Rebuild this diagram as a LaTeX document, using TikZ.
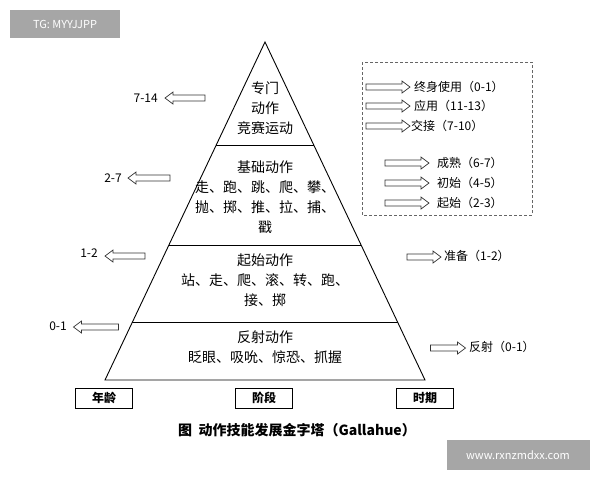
\documentclass[tikz,border=0pt]{standalone}
\usepackage{fontspec}
\setmainfont{Noto Sans CJK SC}
\begin{document}
\begin{tikzpicture}[x=1pt,y=-1pt,
 t/.style={font=\fontsize{14}{20}\selectfont,align=center,inner sep=0},
 s/.style={font=\fontsize{12}{14}\selectfont,inner sep=0},
 hol/.style={draw=black!80,line width=0.7pt,line join=miter},
 lbl/.style={draw,line width=0.8pt,minimum width=57pt,minimum height=20pt,font=\bfseries\fontsize{12}{14}\selectfont,inner sep=0},
 rarr/.pic={\draw[hol] (-#1/2,-3) -- (#1/2-8,-3) -- (#1/2-8,-6) -- (#1/2,0) -- (#1/2-8,6) -- (#1/2-8,3) -- (-#1/2,3) -- cycle;},
 larr/.pic={\draw[hol] (#1/2,-3) -- (-#1/2+8,-3) -- (-#1/2+8,-6) -- (-#1/2,0) -- (-#1/2+8,6) -- (-#1/2+8,3) -- (#1/2,3) -- cycle;}]
\useasboundingbox (0,0) rectangle (600,480);
\fill[white] (0,0) rectangle (600,480);
\node[fill=black!35,minimum width=110,minimum height=28,text=white,font=\fontsize{11}{13}\selectfont] (tg) at (65,24) {TG: MYYJJPP};
\node[fill=black!35,minimum width=143,minimum height=30,text=white,font=\fontsize{11}{13}\selectfont] (wm) at (518,455) {www.rxnzmdxx.com};
% pyramid
\draw[line width=0.9pt] (265,42) coordinate (apex) -- (425,380) coordinate (br) -- (105,380) coordinate (bl) -- cycle;
\draw[line width=0.9pt] (216,145) -- (314,145);
\draw[line width=0.9pt] (169,245) -- (361,245);
\draw[line width=0.9pt] (132,322) -- (398,322);
\node[t] (l1) at (265,108) {专门\\动作\\竞赛运动};
\node[t] (l2) at (265,197) {基础动作\\走、跑、跳、爬、攀、\\抛、掷、推、拉、捕、\\戳};
\node[t] (l3) at (265,280) {起始动作\\站、走、爬、滚、转、跑、\\接、掷};
\node[t] (l4) at (265,347) {反射动作\\眨眼、吸吮、惊恐、抓握};
% left arrows
\pic at (185,98) {larr=40}; \node[s,anchor=east] (n1) at (158,98) {7-14};
\pic at (149,178) {larr=42}; \node[s,anchor=east] (n2) at (122,178) {2-7};
\pic at (125,256) {larr=40}; \node[s,anchor=east] (n3) at (98,253) {1-2};
\pic at (96,327) {larr=45}; \node[s,anchor=east] (n4) at (67,326) {0-1};
% right arrows
\pic at (424,257) {rarr=34}; \node[s,anchor=west] (m1) at (444,256) {准备（1-2）};
\pic at (448,348) {rarr=35}; \node[s,anchor=west] (m2) at (469,347) {反射（0-1）};
% dashed box
\draw[densely dashed,black!60,line width=0.7pt] (362,62) rectangle (532,215);
\pic at (388,87) {rarr=44}; \node[s,anchor=west] (d1) at (414,87) {终身使用（0-1）};
\pic at (388,106) {rarr=44}; \node[s,anchor=west] (d2) at (414,106) {应用（11-13）};
\pic at (388,126) {rarr=44}; \node[s,anchor=west] (d3) at (411,126) {交接（7-10）};
\pic at (407,163) {rarr=44}; \node[s,anchor=west] (d4) at (437,163) {成熟（6-7）};
\pic at (407,183) {rarr=44}; \node[s,anchor=west] (d5) at (437,183) {初始（4-5）};
\pic at (407,203) {rarr=44}; \node[s,anchor=west] (d6) at (437,203) {起始（2-3）};
% bottom labels
\node[lbl] (age) at (104,398) {年龄};
\node[lbl] (stage) at (264,398) {阶段};
\node[lbl] (period) at (425,398) {时期};
\node[font=\bfseries\fontsize{14}{16}\selectfont] (cap) at (297,430) {图\ \ 动作技能发展金字塔（Gallahue）};
\end{tikzpicture}
\end{document}
